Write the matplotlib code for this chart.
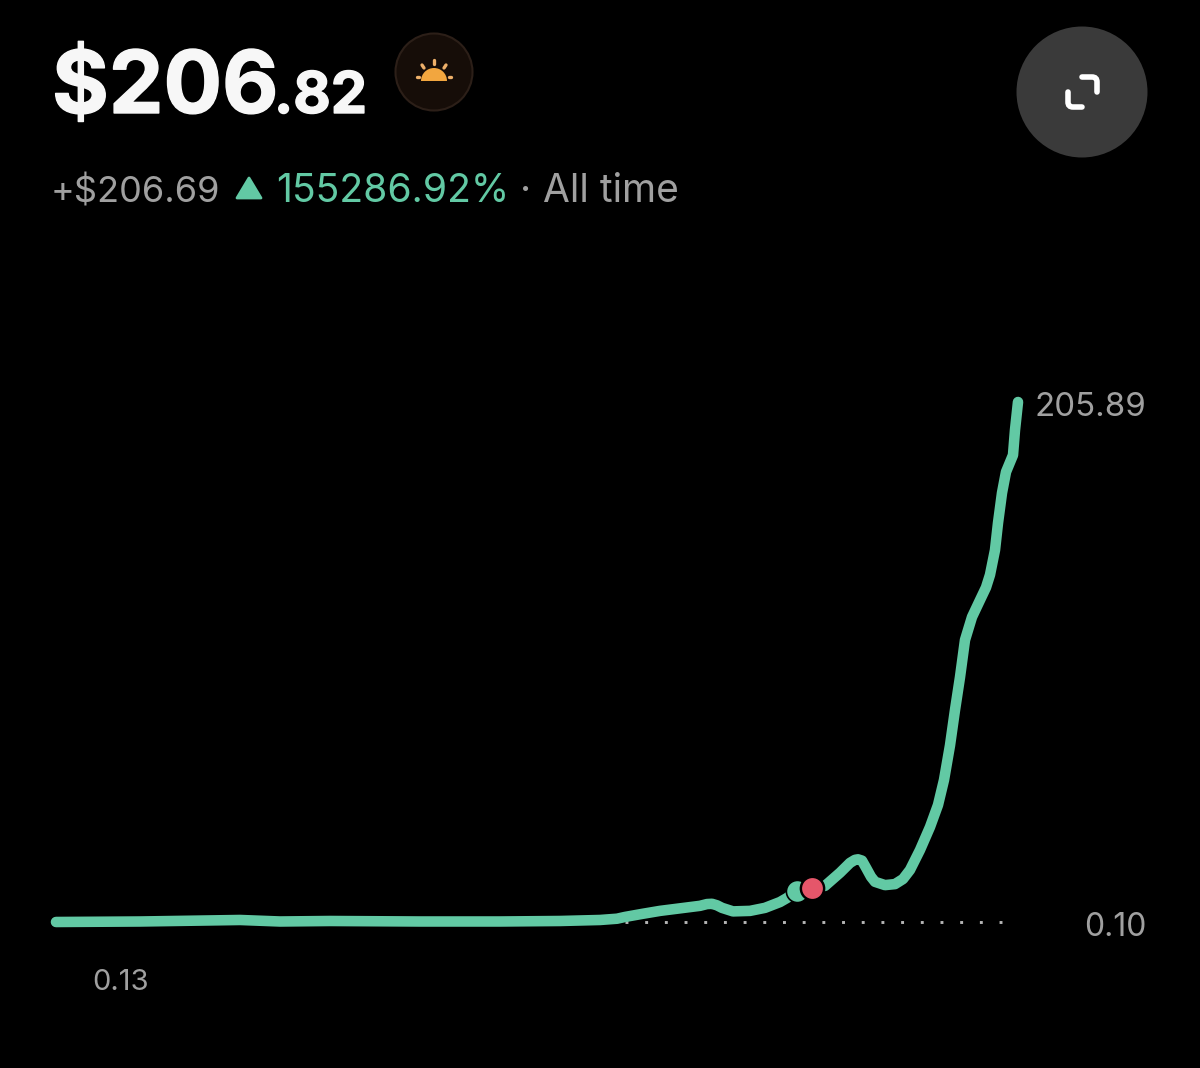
import matplotlib
matplotlib.use("Agg")
import matplotlib.pyplot as plt
import matplotlib.patheffects as pe
from matplotlib.patches import Circle, Wedge, Polygon, PathPatch
from matplotlib.path import Path

# price history, days since start vs. value
days = [4, 88, 188, 228, 278, 368, 448, 508, 548, 565, 573, 590, 608, 630, 648, 655, 660, 665,
        670, 681, 698, 713, 728, 735, 743, 760, 773, 788, 798, 803, 806, 810, 814, 819, 823,
        833, 843, 851, 858, 868, 878, 886, 892, 898, 903, 908, 913, 920, 928, 934, 938, 943, 946,
        950, 954, 961, 963, 966]
values = [0.10, 0.3, 0.9, 0.3, 0.5, 0.3, 0.3, 0.5, 0.9, 1.4, 2.1, 3.3, 4.5, 5.6, 6.5, 7.2, 7.3, 6.7,
          5.7, 4.3, 4.5, 5.7, 8.0, 9.6, 12.0, 13.6, 14.4, 19.6, 23.5, 24.7, 24.9, 24.4, 21.6, 18.0, 16.0,
          14.7, 15.1, 17.1, 20.7, 28.6, 37.7, 46.4, 56.3, 70.0, 84.0, 97.0, 111.7, 120.8, 127.5, 132.5, 137.5,
          147.3, 158.0, 169.9, 178.2, 184.9, 194.8, 205.89]
current_day = 760
current_value = 13.6
baseline = 0.10
high_label = "205.89"
low_label = "0.10"
first_label = "0.13"

GREEN = "#62c9a4"
GREY = "#a0a0a0"
FONT = "Inter"
W, H = 1200, 1068

fig = plt.figure(figsize=(12, 10.68), dpi=100, facecolor="black")

# overlay in pixel coords for the header and the icons
ui = fig.add_axes([0, 0, 1, 1])
ui.set_xlim(0, W)
ui.set_ylim(H, 0)
ui.axis("off")

heavy = [pe.withStroke(linewidth=1.0, foreground="#f7f7f7")]
ui.text(52, 113, "$206", color="#f7f7f7", fontsize=62.5, fontweight="bold", family=FONT, va="baseline",
        path_effects=heavy)
ui.text(274, 113, ".82", color="#f7f7f7", fontsize=41.5, fontweight="bold", family=FONT, va="baseline",
        path_effects=heavy)

ui.text(51, 202, "+$206.69", color=GREY, fontsize=26, family=FONT, va="baseline")
ui.add_patch(Polygon([(237, 198), (261, 198), (249, 178)], closed=True, color=GREEN, joinstyle="round", lw=2))
ui.text(276, 202, "155286.92%", color=GREEN, fontsize=28.2, family=FONT, va="baseline")
ui.text(520, 202, "·", color=GREY, fontsize=28, family=FONT, va="baseline")
ui.text(543, 202, "All time", color=GREY, fontsize=28, family=FONT, va="baseline")

# sun badge
ui.add_patch(Circle((434, 72), 38.5, facecolor="#160d08", edgecolor="#2c1f18", lw=1.5))
ui.add_patch(Wedge((434, 81), 13, 180, 360, facecolor="#f2a63f", edgecolor="none"))
for x0, y0, x1, y1 in [(434, 60, 434, 64), (422, 65, 424, 68), (446, 65, 444, 68), (417, 77, 419, 77), (449, 77, 451, 77)]:
    ui.plot([x0, x1], [y0, y1], color="#eeb06a", lw=2.4, solid_capstyle="round")

# expand button
ui.add_patch(Circle((1082, 92), 65.5, facecolor="#3a3a3a", edgecolor="none"))
codes = [Path.MOVETO, Path.LINETO, Path.CURVE3, Path.CURVE3, Path.LINETO]
ui.add_patch(PathPatch(Path([(1082, 77), (1092, 77), (1097, 77), (1097, 82), (1097, 92)], codes),
                       fill=False, edgecolor="white", lw=4, capstyle="round"))
ui.add_patch(PathPatch(Path([(1068, 92), (1068, 102), (1068, 107), (1073, 107), (1082, 107)], codes),
                       fill=False, edgecolor="white", lw=4, capstyle="round"))

# value labels
ui.text(1146, 416, high_label, color=GREY, fontsize=23.8, family=FONT, ha="right", va="baseline")
ui.text(1146, 936, low_label, color=GREY, fontsize=23, family=FONT, ha="right", va="baseline")
ui.text(92, 990, first_label, color=GREY, fontsize=21, family=FONT, va="baseline")

# chart
ax = fig.add_axes([52 / W, 1 - 922 / H, 966 / W, 520 / H])
ax.patch.set_alpha(0)
ax.axis("off")
ax.set_xlim(0, 966)
ax.set_ylim(baseline, 205.89)

ax.plot([573, 950], [baseline, baseline], color="#b5b5b5", lw=2.1, clip_on=False,
        linestyle=(0, (1, 5.75)), dash_capstyle="butt")
ax.plot(days, values, color=GREEN, lw=7.6, clip_on=False, solid_capstyle="round", solid_joinstyle="round")

# current marker with the small blob trailing it
ax.plot([744.5], [12.4], "o", ms=16, mfc=GREEN, mec="black", mew=1.2, clip_on=False)
ax.plot([current_day], [current_value], "o", ms=18.5, mfc="black", mec="none", clip_on=False)
ax.plot([current_day], [current_value], "o", ms=15, mfc="#e5566a", mec="none", clip_on=False)

fig.savefig("out.png", dpi=100, facecolor="black")
plt.close(fig)
